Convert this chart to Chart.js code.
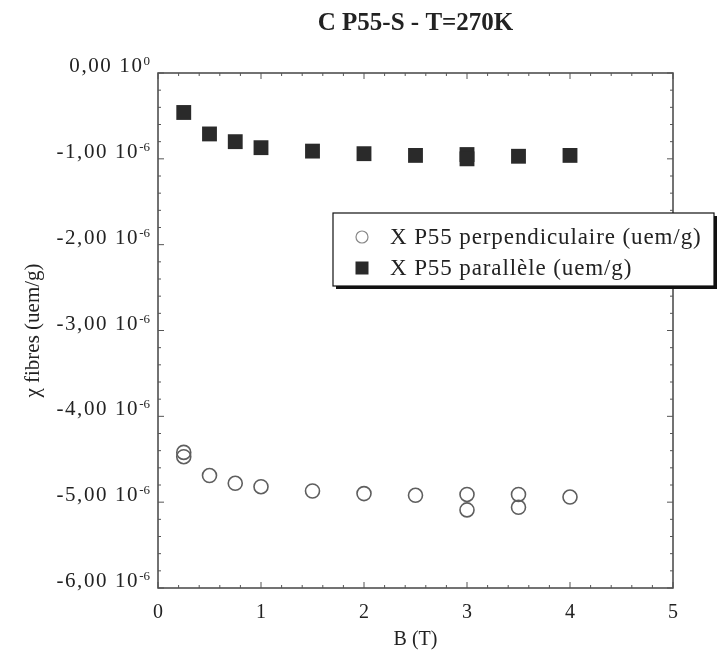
<!DOCTYPE html>
<html>
<head>
<meta charset="utf-8">
<title>C P55-S - T=270K</title>
<script src="https://cdn.jsdelivr.net/npm/chart.js@4.4.1/dist/chart.umd.min.js"></script>
<style>
  html, body { margin: 0; padding: 0; background: #fff; }
</style>
</head>
<body>
<canvas id="chiChart" width="717" height="664"></canvas>
<script>
// susceptibility values are in units of 1e-6 uem/g
const titleText = 'C P55-S - T=270K';
const perpLabel = 'X P55 perpendiculaire (uem/g)';
const paraLabel = 'X P55 parallèle (uem/g)';

const perpField = [0.25, 0.25, 0.5, 0.75, 1, 1.5, 2, 2.5, 3, 3, 3.5, 3.5, 4];
const perpChi = [-4.42, -4.47, -4.69, -4.78, -4.82, -4.87, -4.90, -4.92, -4.91, -5.09, -4.91, -5.06, -4.94];

const paraField = [0.25, 0.5, 0.75, 1, 1.5, 2, 2.5, 3, 3, 3.5, 4];
const paraChi = [-0.46, -0.71, -0.80, -0.87, -0.91, -0.94, -0.96, -0.95, -1.00, -0.97, -0.96];

const xTickLabels = ['0', '1', '2', '3', '4', '5'];
const yTickLabels = ['0,00 10^0', '-1,00 10^-6', '-2,00 10^-6', '-3,00 10^-6',
                     '-4,00 10^-6', '-5,00 10^-6', '-6,00 10^-6'];

const SERIF = "'Liberation Serif', 'Times New Roman', serif";

function isWhole(v) {
    return Math.abs(v - Math.round(v)) < 1e-6;
}

function toPoints(xs, ys) {
    return xs.map((x, i) => ({ x: x, y: ys[i] }));
}

// frame, inward ticks, y tick labels with superscripts, boxed legend
const framePlugin = {
    id: 'frame',
    afterDraw(chart) {
        const { ctx, chartArea: a } = chart;
        const xs = chart.scales.x;
        const ys = chart.scales.y;
        ctx.save();

        ctx.strokeStyle = '#444';
        ctx.lineWidth = 1.5;
        ctx.strokeRect(a.left, a.top, a.right - a.left, a.bottom - a.top);

        ctx.lineWidth = 1;
        ctx.strokeStyle = '#555';
        ctx.beginPath();
        xs.ticks.forEach(t => {
            const px = xs.getPixelForValue(t.value);
            const len = isWhole(t.value) ? 6 : 3;
            ctx.moveTo(px, a.bottom); ctx.lineTo(px, a.bottom - len);
            ctx.moveTo(px, a.top); ctx.lineTo(px, a.top + len);
        });
        ys.ticks.forEach(t => {
            const py = ys.getPixelForValue(t.value);
            const len = isWhole(t.value) ? 6 : 3;
            ctx.moveTo(a.left, py); ctx.lineTo(a.left + len, py);
            ctx.moveTo(a.right, py); ctx.lineTo(a.right - len, py);
        });
        ctx.stroke();

        // y tick labels: "mantissa 10" + superscript exponent
        ctx.fillStyle = '#222';
        ctx.textAlign = 'right';
        ctx.textBaseline = 'alphabetic';
        ys.ticks.forEach(t => {
            if (!isWhole(t.value)) return;
            const label = yTickLabels[Math.round(-t.value)];
            if (!label) return;
            const [base, exp] = label.split('^');
            const py = ys.getPixelForValue(t.value);
            const right = a.left - 8;
            ctx.font = '13px ' + SERIF;
            ctx.letterSpacing = '0px';
            ctx.fillText(exp, right, py - 8);
            const expW = ctx.measureText(exp).width;
            ctx.font = '21px ' + SERIF;
            ctx.letterSpacing = '1.6px';
            ctx.fillText(base, right - expW, py - 1);
        });

        // legend
        const box = { left: 333, top: 213, right: 714, bottom: 286 };
        const w = box.right - box.left;
        const h = box.bottom - box.top;
        ctx.letterSpacing = '0px';
        ctx.fillStyle = '#111';
        ctx.fillRect(box.left + 3, box.top + 3, w, h);
        ctx.fillStyle = '#fff';
        ctx.fillRect(box.left, box.top, w, h);
        ctx.strokeStyle = '#111';
        ctx.lineWidth = 1.2;
        ctx.strokeRect(box.left, box.top, w, h);

        const sets = chart.data.datasets;
        const rows = [box.top + 24, box.top + 55];
        sets.forEach((ds, i) => {
            const cy = rows[i];
            const cx = box.left + 29;
            ctx.beginPath();
            if (ds.pointStyle === 'rect') {
                ctx.fillStyle = ds.pointBackgroundColor;
                ctx.fillRect(cx - 6.5, cy - 6.5, 13, 13);
            } else {
                ctx.strokeStyle = '#888';
                ctx.lineWidth = 1.2;
                ctx.arc(cx, cy, 6, 0, Math.PI * 2);
                ctx.stroke();
            }
            ctx.fillStyle = '#222';
            ctx.textAlign = 'left';
            ctx.textBaseline = 'middle';
            ctx.font = '23px ' + SERIF;
            ctx.letterSpacing = '0.9px';
            ctx.fillText(ds.label, box.left + 57, cy + 1);
        });

        ctx.restore();
    }
};

new Chart(document.getElementById('chiChart'), {
    type: 'scatter',
    data: {
        datasets: [{
            label: perpLabel,
            data: toPoints(perpField, perpChi),
            pointStyle: 'circle',
            pointRadius: 7,
            pointBorderWidth: 1.6,
            pointBorderColor: '#5e5e5e',
            pointBackgroundColor: 'rgba(255,255,255,0)'
        }, {
            label: paraLabel,
            data: toPoints(paraField, paraChi),
            pointStyle: 'rect',
            pointRadius: 10.5,
            pointBorderWidth: 0,
            pointBorderColor: '#2a2a2a',
            pointBackgroundColor: '#2a2a2a'
        }]
    },
    options: {
        responsive: false,
        animation: false,
        events: [],
        layout: { padding: { left: 0, right: 44, top: 0, bottom: 0 } },
        plugins: {
            legend: { display: false },
            tooltip: { enabled: false },
            title: {
                display: true,
                text: titleText,
                fullSize: false,
                color: '#222',
                font: { family: SERIF, size: 25, weight: 'bold' },
                padding: { top: 9, bottom: 34 }
            }
        },
        scales: {
            x: {
                type: 'linear',
                min: 0,
                max: 5,
                grid: { display: false },
                border: { display: false },
                afterFit: s => { s.height = 76; },
                ticks: {
                    stepSize: 0.2,
                    autoSkip: false,
                    maxRotation: 0,
                    padding: 5,
                    color: '#222',
                    font: { family: SERIF, size: 20 },
                    callback: v => isWhole(v) ? xTickLabels[Math.round(v)] : ''
                },
                title: {
                    display: true,
                    text: 'B (T)',
                    color: '#222',
                    font: { family: SERIF, size: 20 },
                    padding: { top: 0, bottom: 12 }
                }
            },
            y: {
                type: 'linear',
                min: -6,
                max: 0,
                grid: { display: false },
                border: { display: false },
                afterFit: s => { s.width = 158; },
                ticks: {
                    stepSize: 0.2,
                    autoSkip: false,
                    display: false
                },
                title: {
                    display: true,
                    text: 'χ fibres (uem/g)',
                    color: '#222',
                    font: { family: SERIF, size: 21 },
                    padding: { top: 21, bottom: 0 }
                }
            }
        }
    },
    plugins: [framePlugin]
});
</script>
</body>
</html>
